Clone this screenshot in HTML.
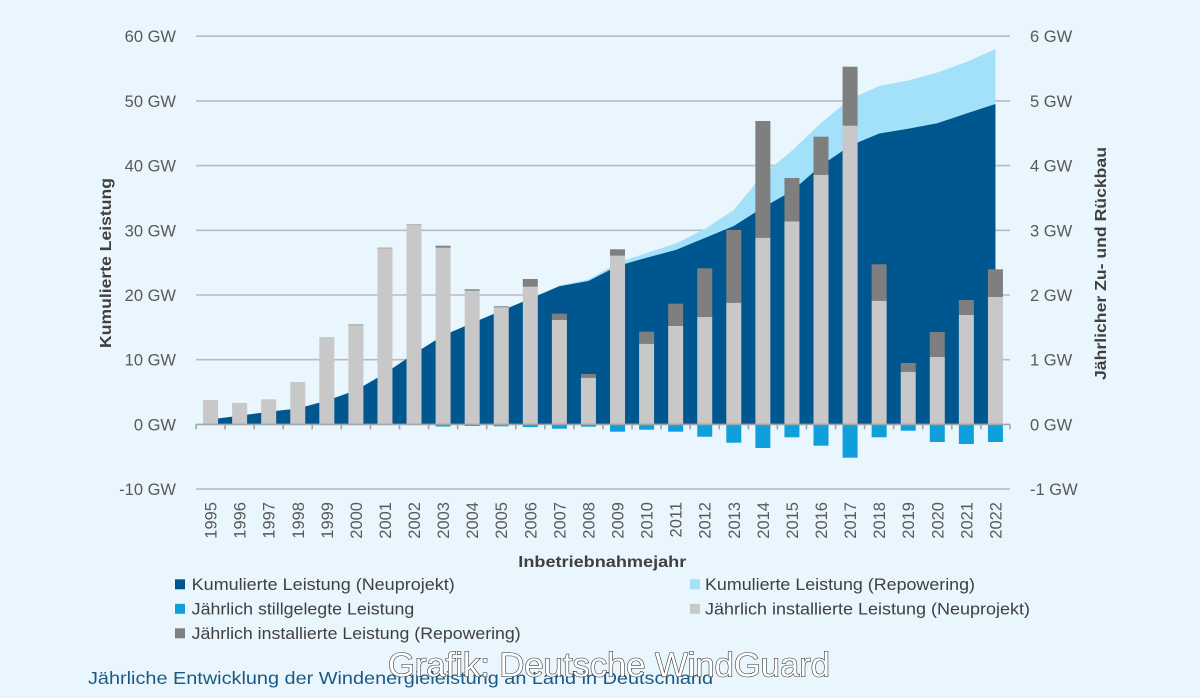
<!DOCTYPE html>
<html><head><meta charset="utf-8">
<style>
html,body{margin:0;padding:0;background:#eaf6fd;}
svg{display:block;}
text{font-family:"Liberation Sans",Arial,sans-serif;}
</style></head>
<body>
<svg width="1200" height="698" viewBox="0 0 1200 698" xmlns="http://www.w3.org/2000/svg">
<rect x="0" y="0" width="1200" height="698" fill="#eaf6fd"/>
<!-- gridlines -->
<g stroke="#b9bcbe" stroke-width="1.6">
<line x1="196" y1="36.2" x2="1010" y2="36.2"/>
<line x1="196" y1="100.9" x2="1010" y2="100.9"/>
<line x1="196" y1="165.6" x2="1010" y2="165.6"/>
<line x1="196" y1="230.3" x2="1010" y2="230.3"/>
<line x1="196" y1="295" x2="1010" y2="295"/>
<line x1="196" y1="359.7" x2="1010" y2="359.7"/>
<line x1="196" y1="489.1" x2="1010" y2="489.1"/>
</g>
<!-- areas -->
<path fill="#a3e1fa" d="M501.24,424.4 L501.24,310.8 L530.31,298.6 L559.38,285.5 L588.45,279.5 L617.52,263 L646.59,253 L675.66,243.5 L704.73,229 L733.80,210 L762.87,174.4 L791.94,150.7 L821.01,123 L850.08,99 L879.15,86 L908.22,80.5 L937.29,72.5 L966.36,62 L995.43,49 L995.43,424.4 Z"/>
<path fill="#00578f" d="M210.54,424.4 L210.54,419.5 L239.61,415.6 L268.68,411.8 L297.75,408.5 L326.82,400.6 L355.89,390.3 L384.96,373.4 L414.03,353.7 L443.10,335.5 L472.17,323 L501.24,310.8 L530.31,298.6 L559.38,286.3 L588.45,281 L617.52,266 L646.59,257.7 L675.66,250 L704.73,238 L733.80,226 L762.87,207.5 L791.94,191 L821.01,165.6 L850.08,145.7 L879.15,133.5 L908.22,128.7 L937.29,123.2 L966.36,113.5 L995.43,104 L995.43,424.4 Z"/>
<!-- gray bars (Neuprojekt) -->
<g fill="#c8c8c8">
<rect x="203.04" y="400" width="15" height="24.4"/>
<rect x="232.11" y="403" width="15" height="21.4"/>
<rect x="261.18" y="399.3" width="15" height="25.1"/>
<rect x="290.25" y="382" width="15" height="42.4"/>
<rect x="319.32" y="337" width="15" height="87.4"/>
<rect x="348.39" y="325.3" width="15" height="99.1"/>
<rect x="377.46" y="248.3" width="15" height="176.1"/>
<rect x="406.53" y="225" width="15" height="199.4"/>
<rect x="435.6" y="247.7" width="15" height="176.7"/>
<rect x="464.67" y="290.7" width="15" height="133.7"/>
<rect x="493.74" y="307.3" width="15" height="117.1"/>
<rect x="522.81" y="286.7" width="15" height="137.7"/>
<rect x="551.88" y="320" width="15" height="104.4"/>
<rect x="580.95" y="377.7" width="15" height="46.7"/>
<rect x="610.02" y="255.7" width="15" height="168.7"/>
<rect x="639.09" y="343.7" width="15" height="80.7"/>
<rect x="668.16" y="326" width="15" height="98.4"/>
<rect x="697.23" y="317" width="15" height="107.4"/>
<rect x="726.3" y="302.7" width="15" height="121.7"/>
<rect x="755.37" y="237.7" width="15" height="186.7"/>
<rect x="784.44" y="221.3" width="15" height="203.1"/>
<rect x="813.51" y="174.7" width="15" height="249.7"/>
<rect x="842.58" y="125.7" width="15" height="298.7"/>
<rect x="871.65" y="300.7" width="15" height="123.7"/>
<rect x="900.72" y="371.7" width="15" height="52.7"/>
<rect x="929.79" y="357" width="15" height="67.4"/>
<rect x="958.86" y="315" width="15" height="109.4"/>
<rect x="987.93" y="297" width="15" height="127.4"/>
</g>
<!-- dark gray caps (Repowering) -->
<g fill="#7f7f7f">
<rect x="348.39" y="324.5" width="15" height="0.8"/>
<rect x="377.46" y="247.7" width="15" height="0.6"/>
<rect x="406.53" y="224.5" width="15" height="0.5"/>
<rect x="435.6" y="245.7" width="15" height="2"/>
<rect x="464.67" y="289.3" width="15" height="1.4"/>
<rect x="493.74" y="306.3" width="15" height="1"/>
<rect x="522.81" y="279" width="15" height="7.7"/>
<rect x="551.88" y="313.7" width="15" height="6.3"/>
<rect x="580.95" y="374" width="15" height="3.7"/>
<rect x="610.02" y="249.3" width="15" height="6.4"/>
<rect x="639.09" y="331.7" width="15" height="12"/>
<rect x="668.16" y="303.7" width="15" height="22.3"/>
<rect x="697.23" y="268.3" width="15" height="48.7"/>
<rect x="726.3" y="230" width="15" height="72.7"/>
<rect x="755.37" y="121" width="15" height="116.7"/>
<rect x="784.44" y="178" width="15" height="43.3"/>
<rect x="813.51" y="136.7" width="15" height="38"/>
<rect x="842.58" y="66.7" width="15" height="59"/>
<rect x="871.65" y="264.3" width="15" height="36.4"/>
<rect x="900.72" y="363" width="15" height="8.7"/>
<rect x="929.79" y="332" width="15" height="25"/>
<rect x="958.86" y="300" width="15" height="15"/>
<rect x="987.93" y="269.3" width="15" height="27.7"/>
</g>
<!-- negative bars (stillgelegt) -->
<g fill="#0fa0dc">
<rect x="435.6" y="424.4" width="15" height="2.1"/>
<rect x="464.67" y="424.4" width="15" height="1.6"/>
<rect x="493.74" y="424.4" width="15" height="1.9"/>
<rect x="522.81" y="424.4" width="15" height="2.6"/>
<rect x="551.88" y="424.4" width="15" height="4.3"/>
<rect x="580.95" y="424.4" width="15" height="2.3"/>
<rect x="610.02" y="424.4" width="15" height="7.3"/>
<rect x="639.09" y="424.4" width="15" height="5.3"/>
<rect x="668.16" y="424.4" width="15" height="7.3"/>
<rect x="697.23" y="424.4" width="15" height="12.3"/>
<rect x="726.3" y="424.4" width="15" height="18.3"/>
<rect x="755.37" y="424.4" width="15" height="23.6"/>
<rect x="784.44" y="424.4" width="15" height="12.9"/>
<rect x="813.51" y="424.4" width="15" height="21.3"/>
<rect x="842.58" y="424.4" width="15" height="33.3"/>
<rect x="871.65" y="424.4" width="15" height="12.9"/>
<rect x="900.72" y="424.4" width="15" height="6.3"/>
<rect x="929.79" y="424.4" width="15" height="17.6"/>
<rect x="958.86" y="424.4" width="15" height="19.6"/>
<rect x="987.93" y="424.4" width="15" height="17.6"/>
</g>
<!-- zero axis with ticks -->
<g stroke="#a3a5a7" stroke-width="1.6">
<line x1="196" y1="424.4" x2="1010" y2="424.4"/>
<path d="M196,424.4v5 M225.07,424.4v5 M254.14,424.4v5 M283.21,424.4v5 M312.28,424.4v5 M341.35,424.4v5 M370.42,424.4v5 M399.49,424.4v5 M428.56,424.4v5 M457.63,424.4v5 M486.7,424.4v5 M515.77,424.4v5 M544.84,424.4v5 M573.91,424.4v5 M602.98,424.4v5 M632.05,424.4v5 M661.12,424.4v5 M690.19,424.4v5 M719.26,424.4v5 M748.33,424.4v5 M777.4,424.4v5 M806.47,424.4v5 M835.54,424.4v5 M864.61,424.4v5 M893.68,424.4v5 M922.75,424.4v5 M951.82,424.4v5 M980.89,424.4v5 M1009.96,424.4v5"/>
</g>
<!-- left axis labels -->
<g fill="#595959" font-size="16.5" text-anchor="end">
<text x="176" y="42.2">60 GW</text>
<text x="176" y="106.9">50 GW</text>
<text x="176" y="171.6">40 GW</text>
<text x="176" y="236.3">30 GW</text>
<text x="176" y="301">20 GW</text>
<text x="176" y="365.7">10 GW</text>
<text x="176" y="430.4">0 GW</text>
<text x="176" y="495.1">-10 GW</text>
</g>
<!-- right axis labels -->
<g fill="#595959" font-size="16.5">
<text x="1030" y="42.2">6 GW</text>
<text x="1030" y="106.9">5 GW</text>
<text x="1030" y="171.6">4 GW</text>
<text x="1030" y="236.3">3 GW</text>
<text x="1030" y="301">2 GW</text>
<text x="1030" y="365.7">1 GW</text>
<text x="1030" y="430.4">0 GW</text>
<text x="1030" y="495.1">-1 GW</text>
</g>
<!-- axis titles -->
<text transform="translate(111,263) rotate(-90)" text-anchor="middle" font-size="16" font-weight="bold" fill="#404040" textLength="170" lengthAdjust="spacingAndGlyphs">Kumulierte Leistung</text>
<text transform="translate(1106,263.5) rotate(-90)" text-anchor="middle" font-size="16" font-weight="bold" fill="#404040" textLength="233" lengthAdjust="spacingAndGlyphs">Jährlicher Zu- und Rückbau</text>
<text x="518.3" y="567" font-size="16" font-weight="bold" fill="#404040" textLength="168" lengthAdjust="spacingAndGlyphs">Inbetriebnahmejahr</text>
<!-- year labels -->
<g fill="#595959" font-size="16.5" text-anchor="end">
<text transform="translate(216.5,502) rotate(-90)">1995</text>
<text transform="translate(245.6,502) rotate(-90)">1996</text>
<text transform="translate(274.7,502) rotate(-90)">1997</text>
<text transform="translate(303.8,502) rotate(-90)">1998</text>
<text transform="translate(332.8,502) rotate(-90)">1999</text>
<text transform="translate(361.9,502) rotate(-90)">2000</text>
<text transform="translate(391,502) rotate(-90)">2001</text>
<text transform="translate(420,502) rotate(-90)">2002</text>
<text transform="translate(449.1,502) rotate(-90)">2003</text>
<text transform="translate(478.2,502) rotate(-90)">2004</text>
<text transform="translate(507.2,502) rotate(-90)">2005</text>
<text transform="translate(536.3,502) rotate(-90)">2006</text>
<text transform="translate(565.4,502) rotate(-90)">2007</text>
<text transform="translate(594.5,502) rotate(-90)">2008</text>
<text transform="translate(623.5,502) rotate(-90)">2009</text>
<text transform="translate(652.6,502) rotate(-90)">2010</text>
<text transform="translate(681.7,502) rotate(-90)">2011</text>
<text transform="translate(710.7,502) rotate(-90)">2012</text>
<text transform="translate(739.8,502) rotate(-90)">2013</text>
<text transform="translate(768.9,502) rotate(-90)">2014</text>
<text transform="translate(797.9,502) rotate(-90)">2015</text>
<text transform="translate(827,502) rotate(-90)">2016</text>
<text transform="translate(856.1,502) rotate(-90)">2017</text>
<text transform="translate(885.2,502) rotate(-90)">2018</text>
<text transform="translate(914.2,502) rotate(-90)">2019</text>
<text transform="translate(943.3,502) rotate(-90)">2020</text>
<text transform="translate(972.4,502) rotate(-90)">2021</text>
<text transform="translate(1001.4,502) rotate(-90)">2022</text>
</g>
<!-- legend -->
<rect x="175" y="579.3" width="10" height="10" fill="#00578f"/>
<rect x="175" y="603.8" width="10" height="10" fill="#0fa0dc"/>
<rect x="175" y="628.3" width="10" height="10" fill="#7f7f7f"/>
<rect x="690" y="579.3" width="10" height="10" fill="#a3e1fa"/>
<rect x="690" y="603.8" width="10" height="10" fill="#c8c8c8"/>
<g fill="#404040" font-size="16.5">
<text x="191.7" y="590" textLength="263" lengthAdjust="spacingAndGlyphs">Kumulierte Leistung (Neuprojekt)</text>
<text x="191.7" y="614.5" textLength="222.6" lengthAdjust="spacingAndGlyphs">Jährlich stillgelegte Leistung</text>
<text x="191.7" y="639" textLength="329" lengthAdjust="spacingAndGlyphs">Jährlich installierte Leistung (Repowering)</text>
<text x="705" y="590" textLength="270" lengthAdjust="spacingAndGlyphs">Kumulierte Leistung (Repowering)</text>
<text x="705" y="614.5" textLength="325" lengthAdjust="spacingAndGlyphs">Jährlich installierte Leistung (Neuprojekt)</text>
</g>
<!-- caption -->
<text x="88" y="684" font-size="17.5" fill="#1a5a84" textLength="625" lengthAdjust="spacingAndGlyphs">Jährliche Entwicklung der Windenergieleistung an Land in Deutschland</text>
<!-- watermark -->
<text x="388" y="676.5" font-size="34" fill="#ffffff" stroke="#2a2a2a" stroke-width="1.1" paint-order="stroke" textLength="442" lengthAdjust="spacingAndGlyphs">Grafik: Deutsche WindGuard</text>
</svg>
</body></html>
